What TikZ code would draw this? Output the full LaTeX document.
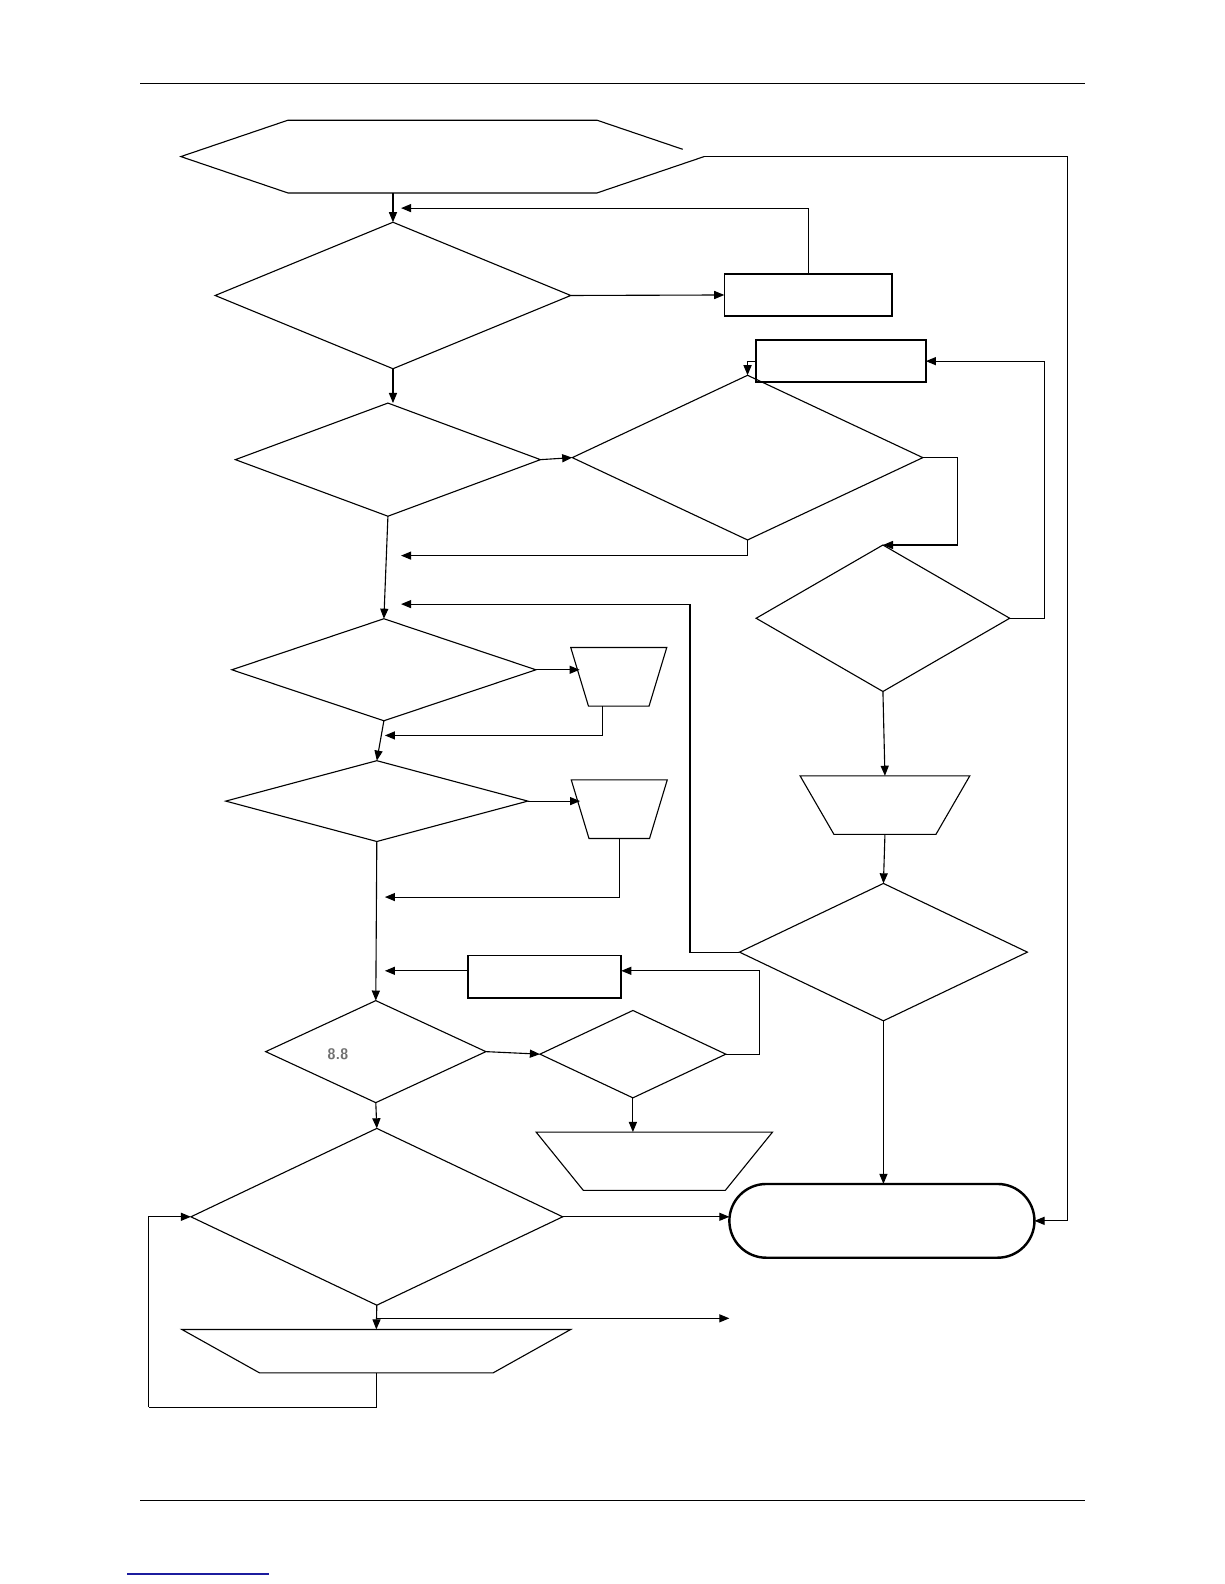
\documentclass[tikz,border=0pt]{standalone}
\usepackage{xcolor}
\usetikzlibrary{arrows.meta, calc, shapes.geometric, shapes.misc}
\definecolor{cLink}{HTML}{1C1C9E}
\definecolor{cDigit}{HTML}{707070}

\begin{document}
\begin{tikzpicture}[
  x=1pt, y=-1pt,
  dec/.style={diamond, draw, inner sep=0pt, outer sep=0pt},
  procbox/.style={rectangle, draw, inner sep=0pt, outer sep=0pt, line width=1.6pt},
  outbox/.style={trapezium, trapezium stretches=true, shape border rotate=180, draw, inner sep=1pt, outer sep=0pt},
  endbox/.style={rounded rectangle, draw, inner sep=0pt, outer sep=0pt, line width=2.4pt},
  startbox/.style={rectangle, inner sep=0pt, outer sep=0pt},
  ->, >={Triangle[length=10pt,width=8pt]}, line width=1.1pt
]
\useasboundingbox (0,0) rectangle (1212,1568);

% page rules
\draw[-] (139,83) -- (1074,83);
\draw[-] (139,1485) -- (1074,1485);
\draw[-, cLink, line width=1.4pt] (126,1558) -- (266,1558);

% shapes
\node[startbox, minimum width=518pt, minimum height=72pt] (start) at (438,155) {};
\coordinate (sNE) at ([xshift=-106pt]start.north east);
\draw[-] ($(sNE)!0.8!(start.east)$) -- (sNE) -- ([xshift=106pt]start.north west) -- (start.west)
  -- ([xshift=106pt]start.south west) -- ([xshift=-106pt]start.south east) -- (start.east);
\node[dec, minimum width=352pt, minimum height=145pt] (d1) at (389,292.5) {};
\node[procbox, minimum width=166pt, minimum height=42pt] (r1) at (800,292) {};
\node[dec, minimum width=302pt, minimum height=112pt] (d2) at (384,455) {};
\node[procbox, minimum width=168pt, minimum height=41.5pt] (r2) at (832.5,357.5) {};
\node[dec, minimum width=347pt, minimum height=163pt] (d3) at (740,453) {};
\node[dec, minimum width=251pt, minimum height=145pt] (d4) at (874,612) {};
\node[dec, minimum width=301pt, minimum height=101pt] (d5) at (380,663) {};
\node[outbox, minimum width=95pt, minimum height=58pt, trapezium angle=73.7] (t1) at (612.5,670) {};
\node[dec, minimum width=299pt, minimum height=80pt] (d6) at (373,793) {};
\node[outbox, minimum width=95pt, minimum height=58pt, trapezium angle=73.7] (t2) at (613,801) {};
\node[procbox, minimum width=152pt, minimum height=42pt] (r3) at (539,967) {};
\node[dec, minimum width=218pt, minimum height=101pt] (d7) at (372,1041) {};
\node[font=\sffamily\bfseries\fontsize{15}{15}\selectfont, text=cDigit, inner sep=0pt] (digit) at (334.5,1044) {8.8};
\node[dec, minimum width=184pt, minimum height=86.5pt] (d8) at (626.5,1043.5) {};
\node[outbox, minimum width=234pt, minimum height=57.7pt, trapezium angle=71.6] (t3) at (647.7,1149.5) {};
\node[dec, minimum width=368pt, minimum height=175pt] (d9) at (373,1204.5) {};
\node[outbox, minimum width=385pt, minimum height=43pt, trapezium angle=71.6] (t4) at (372.5,1337.5) {};
\node[outbox, minimum width=168pt, minimum height=58pt, trapezium angle=71.6] (t5) at (876,797) {};
\node[dec, minimum width=285pt, minimum height=136pt] (d10) at (874.5,942.5) {};
\node[endbox, minimum width=302pt, minimum height=73pt] (stop) at (873,1208.5) {};

% loose ends
\coordinate (j1) at (397,206);
\coordinate (j2) at (397,550);
\coordinate (j3) at (397,598);
\coordinate (j4) at (381,728);
\coordinate (j5) at (381,888);
\coordinate (j6) at (381,961);
\coordinate (j7) at (722,1305);
\coordinate (j8) at (372,1305);
\coordinate (j9) at (147,1393);
\coordinate (j10) at (1057,155);

% connectors
\draw (d1.north |- start.south) -- (d1.north);
\draw[-] (start.east) -- (j10);
\draw (j10) |- (stop.east);
\draw (r1.north) |- (j1);
\draw (d1.east) -- (r1.west);
\draw (d1.south) -- (d1.south |- d2.north);
\draw (d2.east) -- (d3.west);
\draw (r2.west) -| (d3.north);
\draw (d3.east) -- ++(34,0) |- (d4.north);
\draw (d4.east) -- ++(34,0) |- (r2.east);
\draw (d3.south) |- (j2);
\draw (d2.south) -- (d5.north);
\draw (d10.west) -- ++(-49,0) |- (j3);
\draw (d5.east) -- (d5.east -| t1.west);
\draw ([xshift=-16.5pt]t1.south) |- (j4);
\draw (d5.south) -- (d6.north);
\draw (d6.east) -- (d6.east -| t2.west);
\draw (t2.south) |- (j5);
\draw (d6.south) -- (d7.north);
\draw (r3.west |- j6) -- (j6);
\draw (d8.east) -- ++(33,0) |- (r3.east |- j6);
\draw (d7.east) -- (d8.west);
\draw (d8.south) -- (d8.south |- t3.north);
\draw (d7.south) -- (d9.north);
\draw (d9.east) -- (d9.east -| stop.west);
\draw (d9.south) -- (t4.north);
\draw (j8) -- (j7);
\draw[-] (t4.south) |- (j9);
\draw (j9) |- (d9.west);
\draw (d4.south) -- (t5.north);
\draw (t5.south) -- (d10.north);
\draw (d10.south) -- (d10.south |- stop.north);
\end{tikzpicture}
\end{document}
